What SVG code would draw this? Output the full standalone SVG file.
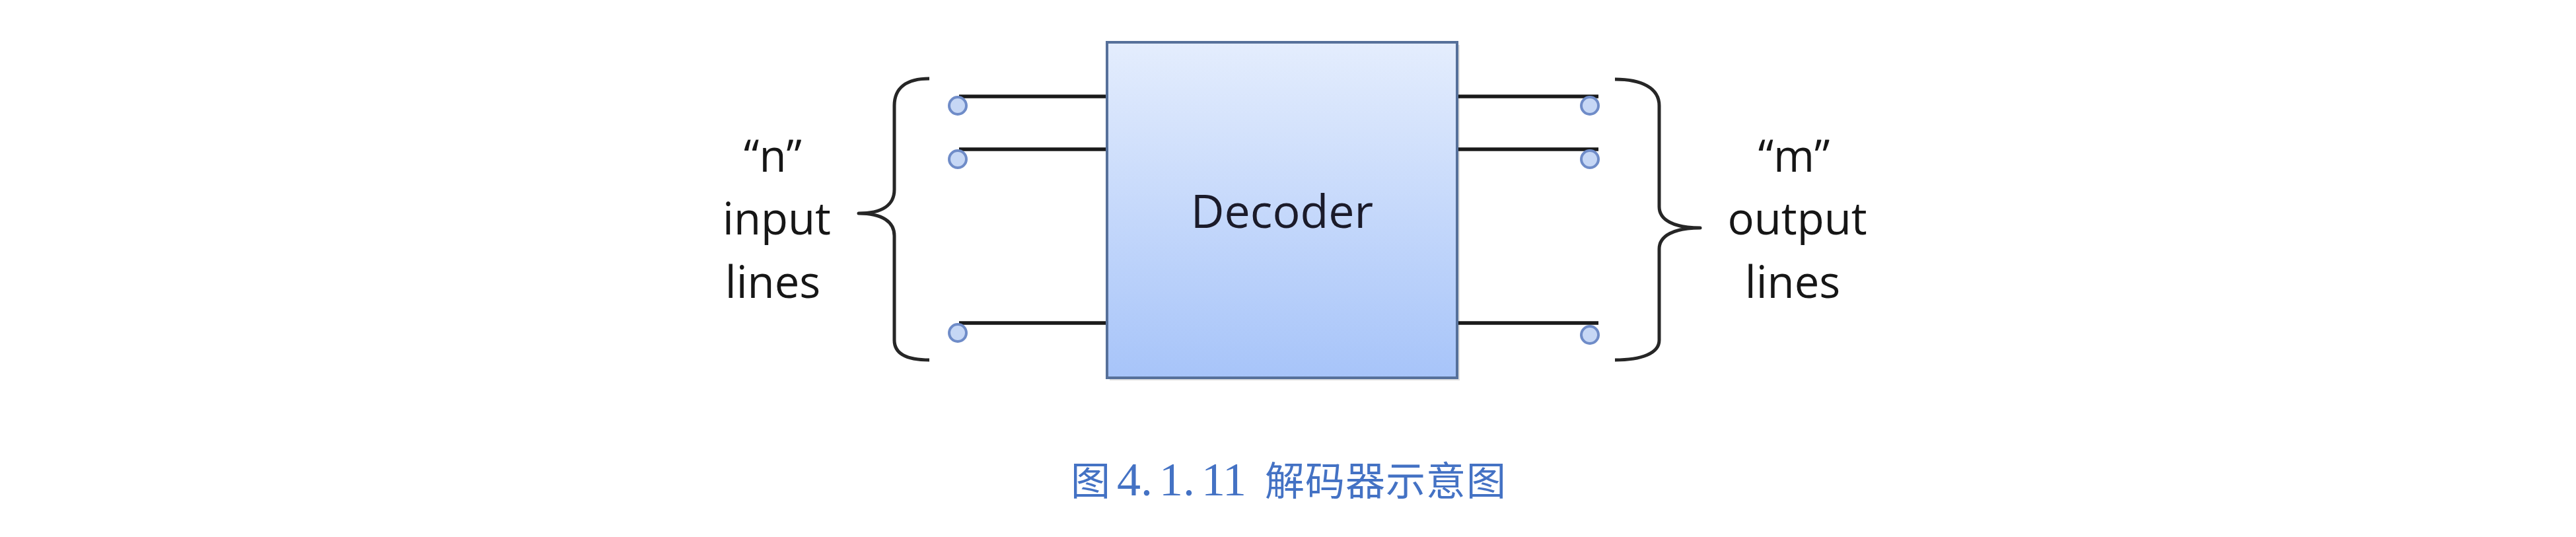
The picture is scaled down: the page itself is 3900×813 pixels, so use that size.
<svg xmlns="http://www.w3.org/2000/svg" width="3900" height="813" viewBox="0 0 3900 813">
<defs>
<linearGradient id="boxGrad" x1="0" y1="0" x2="0" y2="1">
<stop offset="0" stop-color="#e4edfd"/>
<stop offset="1" stop-color="#a7c4f9"/>
</linearGradient>
<style>
.wire{stroke:#1a1a1a;stroke-width:5.5;fill:none;stroke-linecap:butt}
.term{fill:#c6d7f5;stroke:#6f8cc8;stroke-width:4}
.brace{stroke:#262626;stroke-width:5;fill:none;stroke-linejoin:round}
.lbl{font-family:"Open Sans","Noto Sans",sans-serif;font-size:67px;fill:#161616;text-anchor:middle}
.cap{font-family:"Liberation Serif","Noto Sans CJK SC",serif;font-size:60px;fill:#4472c4}
</style>
</defs>
<rect width="3900" height="813" fill="#ffffff"/>
<g id="connectors">
<line class="wire" x1="1452" y1="146" x2="1676" y2="146"/>
<line class="wire" x1="1452" y1="226" x2="1676" y2="226"/>
<line class="wire" x1="1452" y1="489" x2="1676" y2="489"/>
<line class="wire" x1="2206" y1="146" x2="2420" y2="146"/>
<line class="wire" x1="2206" y1="226" x2="2420" y2="226"/>
<line class="wire" x1="2206" y1="489" x2="2420" y2="489"/>
</g>
<g id="decoder">
<rect x="1680" y="68" width="530" height="508" fill="#000" opacity="0.12"/>
<rect x="1676" y="64" width="530" height="508" fill="url(#boxGrad)" stroke="#56709a" stroke-width="4"/>
<text x="1941" y="345" font-family="'Open Sans','Noto Sans',sans-serif" font-size="70" fill="#1b1b2a" text-anchor="middle">Decoder</text>
</g>
<g id="inputs">
<circle class="term" cx="1450" cy="160" r="13"/>
<circle class="term" cx="1450" cy="241" r="13"/>
<circle class="term" cx="1450" cy="504" r="13"/>
<path class="brace" d="M1407 119 C1372 119 1354 133 1354 160 L1354 287 C1354 310 1336 323 1300 323 C1336 323 1354 336 1354 357 L1354 515 C1354 535 1372 545 1407 545"/>
<text class="lbl"><tspan x="1170" y="260">“n”</tspan><tspan x="1176" y="355">input</tspan><tspan x="1170" y="451">lines</tspan></text>
</g>
<g id="outputs">
<circle class="term" cx="2407" cy="160" r="13"/>
<circle class="term" cx="2407" cy="241" r="13"/>
<circle class="term" cx="2407" cy="507" r="13"/>
<path class="brace" d="M2445 120 C2485 120 2512 133 2512 160 L2512 313 C2512 333 2534 345 2574 345 C2534 345 2512 357 2512 377 L2512 515 C2512 535 2485 545 2445 545"/>
<text class="lbl"><tspan x="2716" y="260">“m”</tspan><tspan x="2721" y="355">output</tspan><tspan x="2714" y="451">lines</tspan></text>
</g>
<g id="caption">
<text class="cap" y="750"><tspan x="1621">图</tspan> <tspan font-size="72" x="1691 1727 1755 1791 1819 1851">4.1.11</tspan> <tspan x="1915 1976 2037 2098 2159 2220">解码器示意图</tspan></text>
</g>
</svg>
